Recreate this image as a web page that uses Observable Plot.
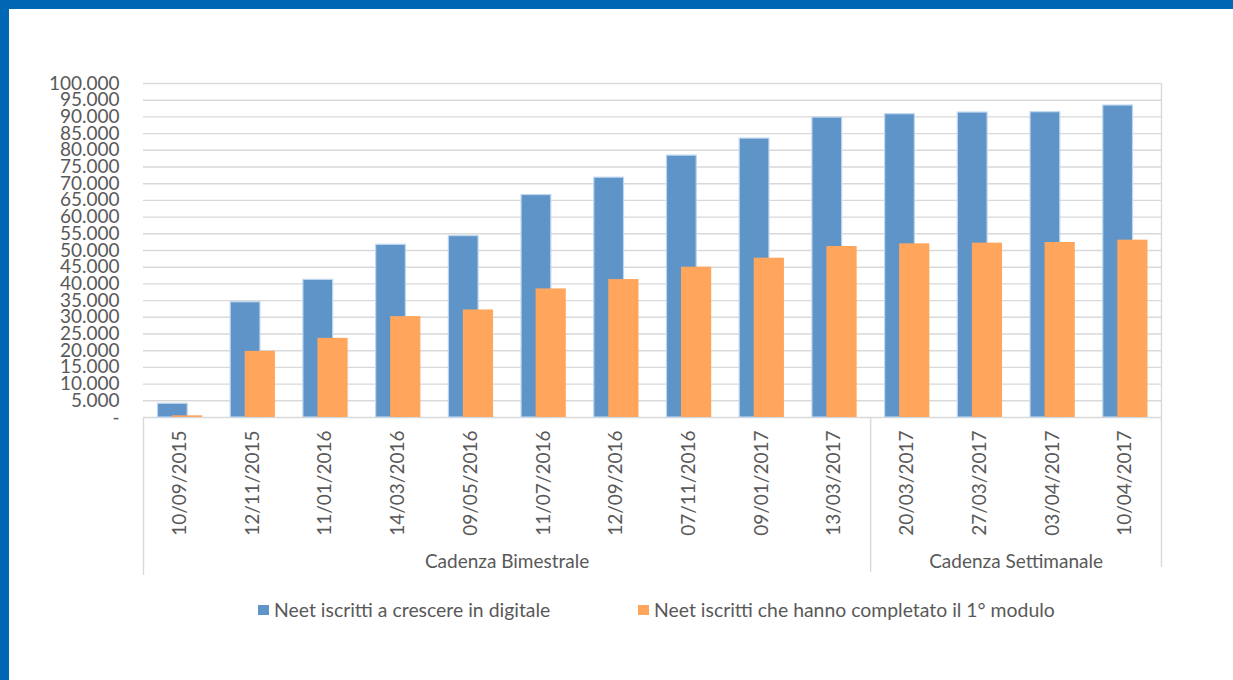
<!DOCTYPE html>
<html>
<head>
<meta charset="utf-8">
<script src="https://cdn.jsdelivr.net/npm/d3@7"></script>
<script src="https://cdn.jsdelivr.net/npm/@observablehq/plot@0.6"></script>
<style>
  html, body { margin: 0; padding: 0; background: #fff; }
  #wrap { position: relative; width: 1233px; height: 680px; overflow: hidden; font-family: Lato, "Open Sans", sans-serif; color: #595959; }
  #chart { position: absolute; left: 0; top: 0; }
  .bar-top { position: absolute; left: 0; top: 0; width: 1233px; height: 9px; background: #0067B4; }
  .bar-left { position: absolute; left: 0; top: 0; width: 9px; height: 680px; background: #0067B4; }
  .legend { position: absolute; top: 598px; font-size: 19.4px; display: flex; align-items: center; white-space: nowrap; }
  .sw { display: inline-block; width: 11px; height: 10px; margin-right: 5px; }
</style>
</head>
<body>
<div id="wrap">
  <div id="chart"></div>
  <div class="bar-top"></div>
  <div class="bar-left"></div>
</div>
<script>
const dates = ["10/09/2015","12/11/2015","11/01/2016","14/03/2016","09/05/2016","11/07/2016","12/09/2016","07/11/2016","09/01/2017","13/03/2017","20/03/2017","27/03/2017","03/04/2017","10/04/2017"];
const iscritti = [4100, 34500, 41200, 51700, 54300, 66600, 71800, 78400, 83500, 89800, 90800, 91300, 91400, 93400];
const completato = [500, 19800, 23700, 30200, 32200, 38500, 41300, 45000, 47700, 51200, 52000, 52200, 52400, 53100];
const groupNames = ["Cadenza Bimestrale", "Cadenza Settimanale"];
const groupSizes = [10, 4];
const seriesNames = ["Neet iscritti a crescere in digitale", "Neet iscritti che hanno completato il 1° modulo"];
const colors = ["#5E94C8", "#FFA65C"];
const yTicks = d3.range(0, 100001, 5000);

const data = dates.map((d, i) => ({date: d, iscritti: iscritti[i], completato: completato[i]}));

const W = 1233, H = 680, ML = 143, MR = 72, MT = 83, MB = 263;
const bw = (W - ML - MR) / dates.length;

// group boundaries and centers
let start = 0;
const groups = groupNames.map((name, g) => {
  const n = groupSizes[g];
  const c = start + n / 2 - 0.5;
  const idx = Math.floor(c);
  const obj = {name, date: dates[idx], off: (c - idx) * bw, first: dates[start], last: dates[start + n - 1]};
  start += n;
  return obj;
});

const fmt = d => d === 0 ? "-" : d3.format(",")(d).replace(/,/g, ".");
const grid = "#D9D9D9";

const plot = Plot.plot({
  width: W, height: H,
  marginLeft: ML, marginRight: MR, marginTop: MT, marginBottom: MB,
  style: {fontFamily: "Lato, 'Open Sans', sans-serif", fontSize: "19px", color: "#595959", background: "transparent"},
  x: {domain: dates, padding: 0, round: false, axis: null},
  y: {domain: [0, 100000], axis: null},
  marks: [
    Plot.ruleY(yTicks, {stroke: grid, strokeWidth: 1.4}),
    Plot.ruleX([dates[dates.length - 1]], {dx: bw / 2, stroke: grid, strokeWidth: 1.4, insetBottom: -150}),
    Plot.ruleX([dates[0]], {dx: -bw / 2, stroke: grid, strokeWidth: 1.4, insetTop: H - MT - MB, insetBottom: -158}),
    Plot.ruleX(groups.slice(1), {x: "first", dx: -bw / 2, stroke: grid, strokeWidth: 1.4, insetTop: H - MT - MB, insetBottom: -155}),
    Plot.axisY({ticks: yTicks, tickSize: 0, tickPadding: 24, tickFormat: fmt, fontSize: 19, fill: "#595959"}),
    Plot.barY(data, {x: "date", y: "iscritti", fill: colors[0], stroke: "#BDD6EE", strokeWidth: 1.2, insetLeft: 14.5, insetRight: 28.5}),
    Plot.barY(data, {x: "date", y: "completato", fill: colors[1], insetLeft: 29, insetRight: 13.5}),
    Plot.axisX({tickRotate: -90, tickSize: 0, tickPadding: 13, fontSize: 19, fill: "#595959"}),
    ...groups.map(g => Plot.text([g], {x: "date", dx: g.off, text: "name", frameAnchor: "bottom", dy: 150, fontSize: 19, fill: "#595959"}))
  ]
});
document.getElementById("chart").appendChild(plot);

const wrap = document.getElementById("wrap");
const legendX = [258, 638];
seriesNames.forEach((s, i) => {
  const div = document.createElement("div");
  div.className = "legend";
  div.style.left = legendX[i] + "px";
  div.innerHTML = `<span class="sw" style="background:${colors[i]}"></span><span>${s}</span>`;
  wrap.appendChild(div);
});
</script>
</body>
</html>
